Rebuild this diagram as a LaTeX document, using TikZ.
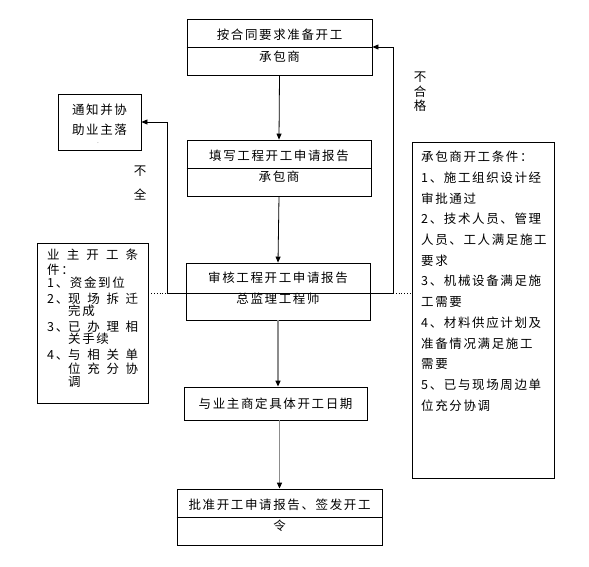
\documentclass[tikz,border=0pt]{standalone}
\usepackage{fontspec}
\setmainfont{Noto Sans CJK SC}[LetterSpace=13]
\usetikzlibrary{arrows.meta}

\begin{document}
\begin{tikzpicture}[x=1pt,y=-1pt,
		box/.style={draw, line width=0.8pt, inner sep=0pt},
		txt/.style={inner sep=0pt, font=\fontsize{12.5}{14}\selectfont},
		arr/.style={line width=0.8pt, -{Triangle[length=6pt,width=5pt,color=black]}},
		grarr/.style={arr, draw=black!45, line width=1.3pt}]
				\useasboundingbox (0,0) rectangle (589,566);
				
				% main chain
				\node[box, minimum width=185pt, minimum height=56pt] (b1) at (279.5,47) {};
				\draw[line width=0.8pt] (b1.west) -- (b1.east);
				\node[txt] (b1a) at (279.5,35) {按合同要求准备开工};
				\node[txt] (b1b) at (279.5,57) {承包商};
				
				\node[box, minimum width=184pt, minimum height=56pt] (b2) at (279,168) {};
				\draw[line width=0.8pt] (b2.west) -- (b2.east);
				\node[txt] (b2a) at (279,156) {填写工程开工申请报告};
				\node[txt] (b2b) at (279,177) {承包商};
				
				\node[box, minimum width=184pt, minimum height=57pt] (b3) at (278,291.5) {};
				\node[txt] (b3a) at (278,278) {审核工程开工申请报告};
				\node[txt] (b3b) at (278,299) {总监理工程师};
				
				\node[box, minimum width=183pt, minimum height=33pt] (b4) at (275.5,403.5) {};
				\node[txt] (b4a) at (275.5,404) {与业主商定具体开工日期};
				
				\node[box, minimum width=205pt, minimum height=56pt] (b5) at (279.5,517) {};
				\draw[line width=0.8pt] (b5.west) -- (b5.east);
				\node[txt] (b5a) at (279.5,505) {批准开工申请报告、签发开工};
				\node[txt] (b5b) at (279.5,526) {令};
				
				\draw[arr] (b1.south) -- (b2.north);
				\draw[arr] (b2.south) -- (b3.north);
				\draw[grarr] (b3.south) -- (b3.south |- b4.north);
				\draw[grarr] (b5.north |- b4.south) -- (b5.north);
				
				% side boxes
				\node[box, minimum width=83pt, minimum height=56pt] (tz) at (99.5,122) {};
				\node[txt, align=center, font=\fontsize{12.5}{20}\selectfont] (tza) at (99.5,120) {通知并协\\助业主落};
				\node[txt, font=\tiny] (tzb) at (98,143) {.};
				
				\node[box, minimum width=111pt, minimum height=160pt] (yz) at (92.5,323) {};
				\foreach \y/\t [count=\i] in {255/{\makebox[91pt][s]{业\hfill 主\hfill 开\hfill 工\hfill 条}},
						270/{件：}, 283/{1、资金到位},
						299/{\makebox[21pt][l]{2、}\makebox[70pt][s]{现\hfill 场\hfill 拆\hfill 迁}},
						311/{\hspace*{21pt}完成},
						327/{\makebox[21pt][l]{3、}\makebox[70pt][s]{已\hfill 办\hfill 理\hfill 相}},
						339/{\hspace*{21pt}关手续},
						355/{\makebox[21pt][l]{4、}\makebox[70pt][s]{与\hfill 相\hfill 关\hfill 单}},
						369/{\hspace*{21pt}\makebox[70pt][s]{位\hfill 充\hfill 分\hfill 协}},
						382/{\hspace*{21pt}调}}
					\node[txt, anchor=west] (yz\i) at (47,\y) {\t};
				
				\node[box, minimum width=142pt, minimum height=336pt] (cb) at (483,310) {};
				\foreach \t [count=\i] in {承包商开工条件：, 1、施工组织设计经, 审批通过, 2、技术人员、管理,
						人员、工人满足施工, 要求, 3、机械设备满足施, 工需要, 4、材料供应计划及,
						准备情况满足施工, 需要, 5、已与现场周边单, 位充分协调}
					\node[txt, anchor=west] (cb\i) at (421,{157+(\i-1)*20.7}) {\t};
				
				% feedback
				\coordinate (fbL) at (167,293);
				\coordinate (fbR) at (393,293);
				\draw[line width=0.8pt] (fbL) -- (fbR);
				\draw[arr] (fbL) -- (fbL |- tz.east) -- (tz.east);
				\draw[arr] (fbR) -- (fbR |- b1.east) -- (b1.east);
				\draw[dotted, line width=0.8pt] (yz.east |- fbL) -- (fbL);
				\draw[dotted, line width=0.8pt] (fbR) -- (cb.west |- fbR);
				
				\node[txt, align=center, font=\fontsize{12.5}{24}\selectfont] (bq) at (140,183) {不\\全};
				\node[txt, align=center, font=\fontsize{12.5}{14.5}\selectfont] (bhg) at (420,92) {不\\合\\格};
			\end{tikzpicture}
\end{document}
